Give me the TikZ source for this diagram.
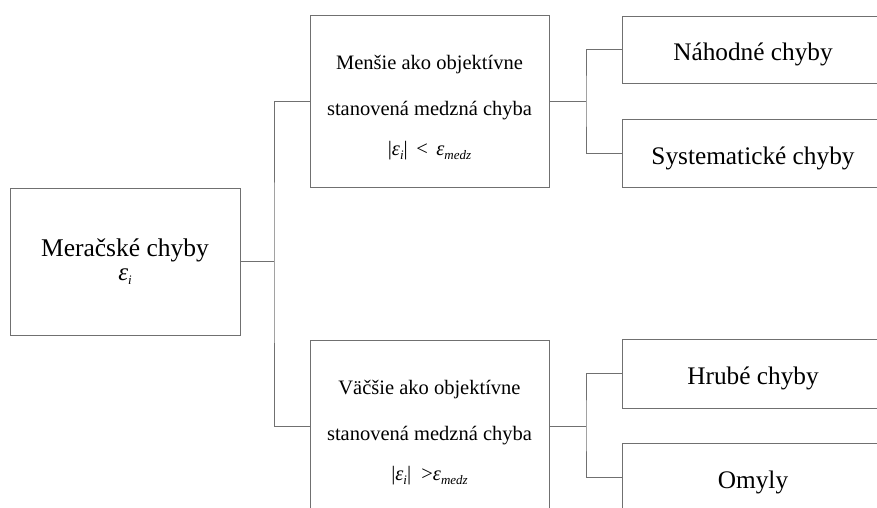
\documentclass[tikz,border=0pt]{standalone}
\usepackage{fontspec}
\setmainfont{Liberation Serif}
\newcommand\epsb[1]{\textit{ε}\raisebox{-0.4ex}{\fontsize{13}{13}\selectfont\textit{#1}}}
\begin{document}
\begin{tikzpicture}[x=1pt,y=-1pt,
  box/.style={draw=linegray,line width=0.9pt,rectangle,inner sep=0pt,align=center,text=black},
  small/.style={box,minimum width=262pt,font=\fontsize{25.3}{30}\selectfont,text height=28pt,text depth=6pt},
  link/.style={draw=linegray,line width=0.9pt}]
\definecolor{linegray}{RGB}{112,112,112}
\useasboundingbox (0,0) rectangle (877,507);
\clip (0,0) rectangle (877,507);
% left box
\node[box,minimum width=230pt,minimum height=147pt,font=\fontsize{25.5}{25}\selectfont] (L) at (125,261.5)
  {Meračské chyby\\[-1pt]{\fontsize{25}{25}\selectfont\epsb{i}}};
% middle boxes
\node[box,minimum width=239pt,minimum height=172pt,font=\fontsize{20.5}{24}\selectfont] (T) at (429.5,101)
  {\rule{0pt}{27pt}Menšie ako objektívne\\[22pt]stanovená medzná chyba\\[16pt]|\epsb{i}|\, <\, \epsb{medz}};
\node[box,minimum width=239pt,minimum height=172pt,font=\fontsize{20.5}{24}\selectfont] (B) at (429.5,426)
  {\rule{0pt}{27pt}Väčšie ako objektívne\\[22pt]stanovená medzná chyba\\[16pt]|\epsb{i}|\ \ >\epsb{medz}};
% right boxes
\node[small,minimum height=67pt] (N) at (753,49.5) {Náhodné chyby};
\node[small,minimum height=68pt] (S) at (753,153) {Systematické chyby};
\node[small,minimum height=69pt] (H) at (753,373.5) {Hrubé chyby};
\node[small,minimum height=68pt] (O) at (753,477) {Omyly};
% junctions
\coordinate (j1) at (274,261.5);
\coordinate (j2) at (586,101);
\coordinate (j3) at (586,426);
\draw[link] (L.east) -- (j1);
\draw[link] (T.west) -| (j1) |- (B.west);
\draw[link] (T.east) -- (j2);
\draw[link] (N.west) -| (j2) |- (S.west);
\draw[link] (B.east) -- (j3);
\draw[link] (H.west) -| (j3) |- (O.west);
\end{tikzpicture}
\end{document}
